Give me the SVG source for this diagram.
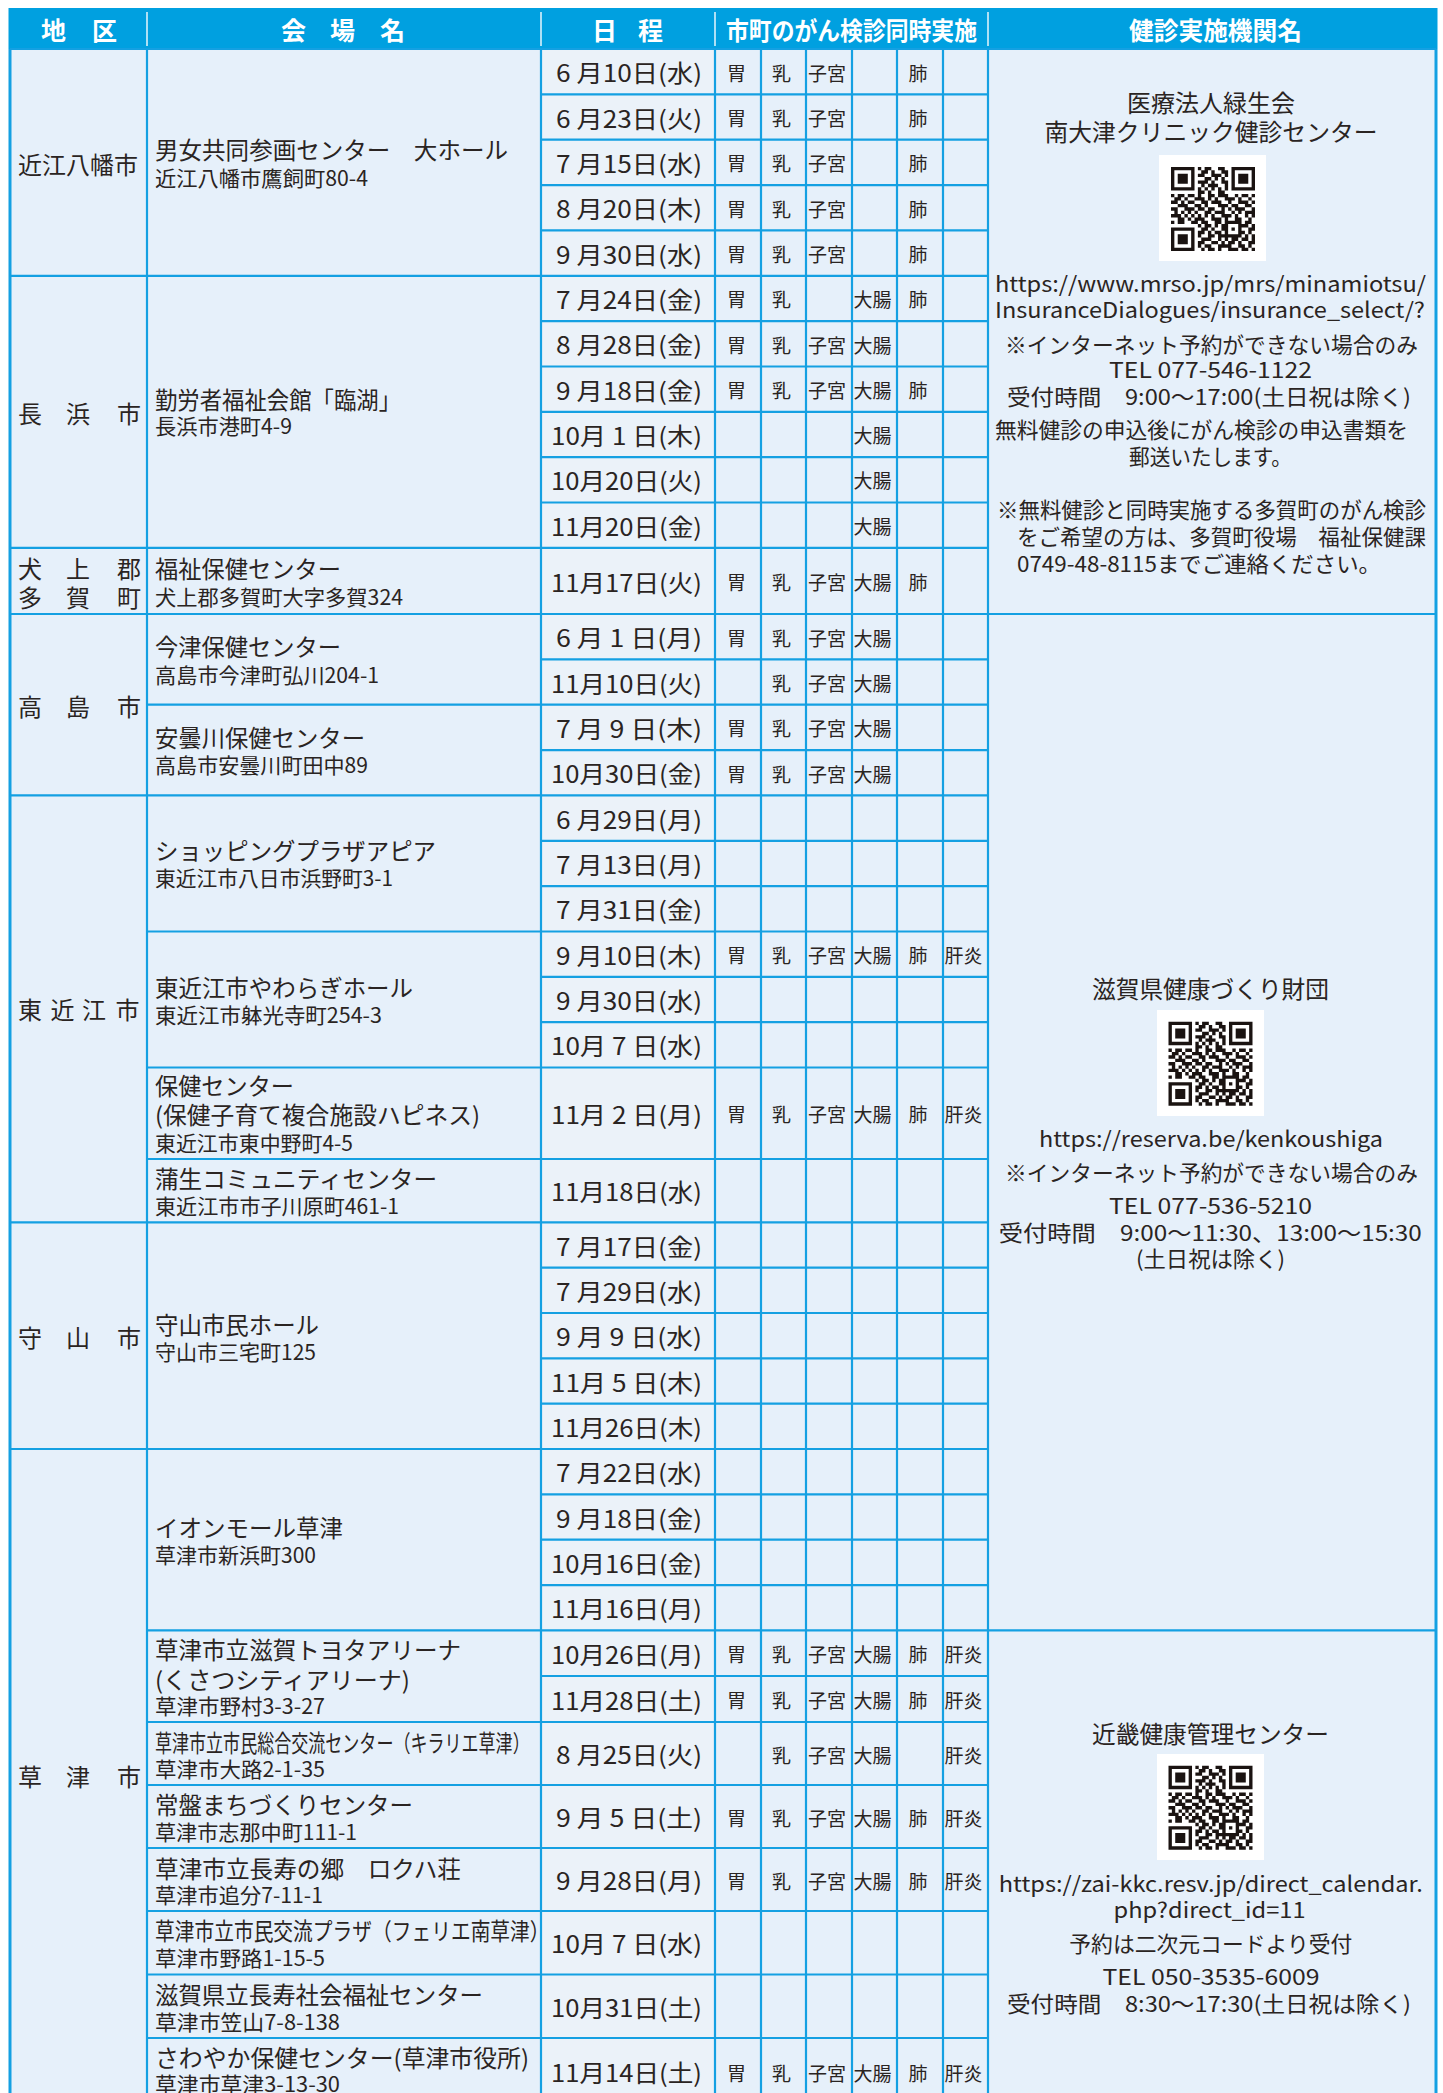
<svg xmlns="http://www.w3.org/2000/svg" width="1443" height="2093" viewBox="0 0 1443 2093">
<defs>
<style>
text{font-family:"Noto Sans CJK JP","Noto Sans",sans-serif;fill:#2a2422;dominant-baseline:central}
.h{font-size:25px;font-weight:700;fill:#fff}
.k{font-size:24px}
.n{font-size:23.5px}
.a{font-size:21px}
.d{font-size:24px;text-anchor:end}
.c{font-size:19px;text-anchor:middle}
.ti{font-size:24px;text-anchor:middle}
.r{font-size:21.5px;text-anchor:middle}
.rs{font-size:21.5px}
.ln{stroke:#14A0E2;stroke-width:2.2;fill:none}
.ob{stroke:#14A0E2;stroke-width:3;fill:none}
.sep{stroke:#fff;stroke-width:1.6;opacity:.85}
.qb{fill:#fff}
</style>
<path id="qr" fill="#1a1311" d="M0 0h7v1h-7zM8 0h1v1h-1zM10 0h2v1h-2zM14 0h2v1h-2zM18 0h7v1h-7zM0 1h1v1h-1zM6 1h1v1h-1zM9 1h2v1h-2zM12 1h1v1h-1zM15 1h2v1h-2zM18 1h1v1h-1zM24 1h1v1h-1zM0 2h1v1h-1zM2 2h3v1h-3zM6 2h1v1h-1zM8 2h2v1h-2zM12 2h3v1h-3zM16 2h1v1h-1zM18 2h1v1h-1zM20 2h3v1h-3zM24 2h1v1h-1zM0 3h1v1h-1zM2 3h3v1h-3zM6 3h1v1h-1zM10 3h2v1h-2zM13 3h1v1h-1zM15 3h1v1h-1zM18 3h1v1h-1zM20 3h3v1h-3zM24 3h1v1h-1zM0 4h1v1h-1zM2 4h3v1h-3zM6 4h1v1h-1zM8 4h3v1h-3zM12 4h1v1h-1zM15 4h2v1h-2zM18 4h1v1h-1zM20 4h3v1h-3zM24 4h1v1h-1zM0 5h1v1h-1zM6 5h1v1h-1zM9 5h1v1h-1zM11 5h3v1h-3zM16 5h1v1h-1zM18 5h1v1h-1zM24 5h1v1h-1zM0 6h7v1h-7zM8 6h1v1h-1zM10 6h1v1h-1zM12 6h1v1h-1zM14 6h1v1h-1zM16 6h1v1h-1zM18 6h7v1h-7zM8 7h2v1h-2zM11 7h1v1h-1zM14 7h2v1h-2zM0 8h1v1h-1zM2 8h2v1h-2zM5 8h2v1h-2zM8 8h1v1h-1zM11 8h2v1h-2zM14 8h3v1h-3zM19 8h1v1h-1zM21 8h2v1h-2zM24 8h1v1h-1zM1 9h2v1h-2zM4 9h1v1h-1zM7 9h3v1h-3zM11 9h1v1h-1zM13 9h1v1h-1zM16 9h3v1h-3zM20 9h1v1h-1zM23 9h1v1h-1zM0 10h2v1h-2zM3 10h1v1h-1zM5 10h2v1h-2zM9 10h2v1h-2zM12 10h3v1h-3zM17 10h1v1h-1zM20 10h3v1h-3zM24 10h1v1h-1zM2 11h3v1h-3zM7 11h2v1h-2zM10 11h1v1h-1zM14 11h3v1h-3zM18 11h2v1h-2zM22 11h2v1h-2zM0 12h2v1h-2zM4 12h3v1h-3zM8 12h2v1h-2zM11 12h2v1h-2zM15 12h1v1h-1zM17 12h1v1h-1zM19 12h3v1h-3zM24 12h1v1h-1zM1 13h1v1h-1zM3 13h1v1h-1zM5 13h1v1h-1zM7 13h1v1h-1zM10 13h2v1h-2zM13 13h3v1h-3zM18 13h1v1h-1zM20 13h1v1h-1zM22 13h3v1h-3zM0 14h3v1h-3zM4 14h1v1h-1zM6 14h1v1h-1zM8 14h1v1h-1zM10 14h1v1h-1zM12 14h1v1h-1zM15 14h3v1h-3zM19 14h1v1h-1zM22 14h1v1h-1zM24 14h1v1h-1zM2 15h2v1h-2zM5 15h1v1h-1zM7 15h3v1h-3zM12 15h3v1h-3zM16 15h1v1h-1zM19 15h2v1h-2zM23 15h1v1h-1zM0 16h1v1h-1zM2 16h2v1h-2zM6 16h2v1h-2zM9 16h2v1h-2zM13 16h2v1h-2zM16 16h5v1h-5zM22 16h2v1h-2zM8 17h1v1h-1zM10 17h2v1h-2zM13 17h1v1h-1zM15 17h2v1h-2zM20 17h3v1h-3zM24 17h1v1h-1zM0 18h7v1h-7zM9 18h2v1h-2zM12 18h1v1h-1zM15 18h2v1h-2zM18 18h1v1h-1zM20 18h1v1h-1zM23 18h2v1h-2zM0 19h1v1h-1zM6 19h1v1h-1zM8 19h2v1h-2zM11 19h1v1h-1zM13 19h2v1h-2zM16 19h1v1h-1zM20 19h2v1h-2zM23 19h1v1h-1zM0 20h1v1h-1zM2 20h3v1h-3zM6 20h1v1h-1zM8 20h1v1h-1zM11 20h2v1h-2zM14 20h7v1h-7zM22 20h1v1h-1zM24 20h1v1h-1zM0 21h1v1h-1zM2 21h3v1h-3zM6 21h1v1h-1zM9 21h3v1h-3zM14 21h1v1h-1zM16 21h1v1h-1zM18 21h2v1h-2zM21 21h2v1h-2zM24 21h1v1h-1zM0 22h1v1h-1zM2 22h3v1h-3zM6 22h1v1h-1zM8 22h2v1h-2zM12 22h2v1h-2zM15 22h1v1h-1zM17 22h2v1h-2zM20 22h1v1h-1zM23 22h2v1h-2zM0 23h1v1h-1zM6 23h1v1h-1zM8 23h1v1h-1zM10 23h2v1h-2zM14 23h4v1h-4zM20 23h2v1h-2zM23 23h1v1h-1zM0 24h7v1h-7zM9 24h1v1h-1zM11 24h2v1h-2zM14 24h1v1h-1zM17 24h3v1h-3zM21 24h2v1h-2zM24 24h1v1h-1z"/>
</defs>

<rect x="0" y="0" width="1443" height="2093" fill="#fff"/>
<rect x="10" y="49" width="1426" height="2044" fill="#E6F0FA"/>
<rect x="541" y="49" width="174" height="2044" fill="#EBF2F9"/>

<g id="header">
<rect x="8.5" y="8" width="1429" height="41" fill="#00A0E0"/>
<path class="sep" d="M147 12V46M541 12V46M715 12V46M988 12V46"/>
<text class="h" x="41 92" y="29">地区</text>
<text class="h" x="281 330 380" y="29">会場名</text>
<text class="h" x="592 638" y="29">日程</text>
<text class="h" x="726" y="29" textLength="251" lengthAdjust="spacingAndGlyphs">市町のがん検診同時実施</text>
<text class="h" x="1129" y="29" textLength="173" lengthAdjust="spacingAndGlyphs">健診実施機関名</text>
</g>

<g id="connectors">
<path class="ob" d="M10 49V2093M1436 49V2093"/>
<path class="ln" d="M147 49V2093M541 49V2093M715 49V2093M761 49V2093M806 49V2093M852 49V2093M897 49V2093M943 49V2093M988 49V2093"/>
<path class="ln" d="M10 49H1436M541 94.4H988M541 139.7H988M541 185.1H988M541 230.4H988M541 321.1H988M541 366.5H988M541 411.8H988M541 457.2H988M541 502.5H988M541 659.4H988M541 750.1H988M541 840.8H988M541 886.1H988M541 976.8H988M541 1022.2H988M541 1267.6H988M541 1313H988M541 1358.3H988M541 1403.7H988M541 1494.4H988M541 1539.7H988M541 1585.1H988M541 1676H988"/>
<path class="ln" d="M147 704.7H988M147 931.5H988M147 1067.5H988M147 1159H988M147 1722H988M147 1785H988M147 1848H988M147 1911H988M147 1974.5H988M147 2038H988"/>
<path class="ln" d="M10 275.8H988M10 547.9H988M10 795.4H988M10 1222.3H988M10 1449H988M10 614H1436M147 1630.4H1436"/>
</g>

<g id="omihachiman">
<text class="k" x="18" y="163">近江八幡市</text>
<text class="n" x="155" y="149" textLength="353" lengthAdjust="spacingAndGlyphs">男女共同参画センター　大ホール</text>
<text class="a" x="155" y="177" textLength="213" lengthAdjust="spacingAndGlyphs">近江八幡市鷹飼町80-4</text>
<text class="d" x="702" y="71.7" textLength="146" lengthAdjust="spacingAndGlyphs">6 月10日(水)</text>
<text class="d" x="702" y="117" textLength="146" lengthAdjust="spacingAndGlyphs">6 月23日(火)</text>
<text class="d" x="702" y="162.4" textLength="146" lengthAdjust="spacingAndGlyphs">7 月15日(水)</text>
<text class="d" x="702" y="207.7" textLength="146" lengthAdjust="spacingAndGlyphs">8 月20日(木)</text>
<text class="d" x="702" y="253.1" textLength="146" lengthAdjust="spacingAndGlyphs">9 月30日(水)</text>
<text class="c" y="71.7"><tspan x="736.5">胃</tspan><tspan x="781.5">乳</tspan><tspan x="827">子宮</tspan><tspan x="918">肺</tspan></text>
<text class="c" y="117"><tspan x="736.5">胃</tspan><tspan x="781.5">乳</tspan><tspan x="827">子宮</tspan><tspan x="918">肺</tspan></text>
<text class="c" y="162.4"><tspan x="736.5">胃</tspan><tspan x="781.5">乳</tspan><tspan x="827">子宮</tspan><tspan x="918">肺</tspan></text>
<text class="c" y="207.7"><tspan x="736.5">胃</tspan><tspan x="781.5">乳</tspan><tspan x="827">子宮</tspan><tspan x="918">肺</tspan></text>
<text class="c" y="253.1"><tspan x="736.5">胃</tspan><tspan x="781.5">乳</tspan><tspan x="827">子宮</tspan><tspan x="918">肺</tspan></text>
</g>

<g id="nagahama">
<text class="k" x="18 66 117" y="412">長浜市</text>
<text class="n" x="155" y="399" textLength="246" lengthAdjust="spacingAndGlyphs">勤労者福祉会館「臨湖」</text>
<text class="a" x="155" y="425" textLength="137" lengthAdjust="spacingAndGlyphs">長浜市港町4-9</text>
<text class="d" x="702" y="298.4" textLength="146" lengthAdjust="spacingAndGlyphs">7 月24日(金)</text>
<text class="d" x="702" y="343.8" textLength="146" lengthAdjust="spacingAndGlyphs">8 月28日(金)</text>
<text class="d" x="702" y="389.1" textLength="146" lengthAdjust="spacingAndGlyphs">9 月18日(金)</text>
<text class="d" x="702" y="434.5" textLength="151" lengthAdjust="spacingAndGlyphs">10月 1 日(木)</text>
<text class="d" x="702" y="479.8" textLength="151" lengthAdjust="spacingAndGlyphs">10月20日(火)</text>
<text class="d" x="702" y="525.2" textLength="151" lengthAdjust="spacingAndGlyphs">11月20日(金)</text>
<text class="c" y="298.4"><tspan x="736.5">胃</tspan><tspan x="781.5">乳</tspan><tspan x="872.5">大腸</tspan><tspan x="918">肺</tspan></text>
<text class="c" y="343.8"><tspan x="736.5">胃</tspan><tspan x="781.5">乳</tspan><tspan x="827">子宮</tspan><tspan x="872.5">大腸</tspan></text>
<text class="c" y="389.1"><tspan x="736.5">胃</tspan><tspan x="781.5">乳</tspan><tspan x="827">子宮</tspan><tspan x="872.5">大腸</tspan><tspan x="918">肺</tspan></text>
<text class="c" x="872.5" y="434.5">大腸</text>
<text class="c" x="872.5" y="479.8">大腸</text>
<text class="c" x="872.5" y="525.2">大腸</text>
</g>

<g id="taga">
<text class="k" x="18 66 117" y="567">犬上郡</text>
<text class="k" x="18 66 117" y="596">多賀町</text>
<text class="n" x="155" y="568" textLength="186" lengthAdjust="spacingAndGlyphs">福祉保健センター</text>
<text class="a" x="155" y="596" textLength="248" lengthAdjust="spacingAndGlyphs">犬上郡多賀町大字多賀324</text>
<text class="d" x="702" y="581" textLength="151" lengthAdjust="spacingAndGlyphs">11月17日(火)</text>
<text class="c" y="581"><tspan x="736.5">胃</tspan><tspan x="781.5">乳</tspan><tspan x="827">子宮</tspan><tspan x="872.5">大腸</tspan><tspan x="918">肺</tspan></text>
</g>

<g id="takashima">
<text class="k" x="18 66 117" y="705">高島市</text>
<text class="n" x="155" y="646" textLength="186" lengthAdjust="spacingAndGlyphs">今津保健センター</text>
<text class="a" x="155" y="674" textLength="224" lengthAdjust="spacingAndGlyphs">高島市今津町弘川204-1</text>
<text class="n" x="155" y="737" textLength="210" lengthAdjust="spacingAndGlyphs">安曇川保健センター</text>
<text class="a" x="155" y="764" textLength="213" lengthAdjust="spacingAndGlyphs">高島市安曇川町田中89</text>
<text class="d" x="702" y="636.7" textLength="146" lengthAdjust="spacingAndGlyphs">6 月 1 日(月)</text>
<text class="d" x="702" y="682" textLength="151" lengthAdjust="spacingAndGlyphs">11月10日(火)</text>
<text class="d" x="702" y="727.4" textLength="146" lengthAdjust="spacingAndGlyphs">7 月 9 日(木)</text>
<text class="d" x="702" y="772.7" textLength="151" lengthAdjust="spacingAndGlyphs">10月30日(金)</text>
<text class="c" y="636.7"><tspan x="736.5">胃</tspan><tspan x="781.5">乳</tspan><tspan x="827">子宮</tspan><tspan x="872.5">大腸</tspan></text>
<text class="c" y="682"><tspan x="781.5">乳</tspan><tspan x="827">子宮</tspan><tspan x="872.5">大腸</tspan></text>
<text class="c" y="727.4"><tspan x="736.5">胃</tspan><tspan x="781.5">乳</tspan><tspan x="827">子宮</tspan><tspan x="872.5">大腸</tspan></text>
<text class="c" y="772.7"><tspan x="736.5">胃</tspan><tspan x="781.5">乳</tspan><tspan x="827">子宮</tspan><tspan x="872.5">大腸</tspan></text>
</g>

<g id="higashiomi">
<text class="k" x="18 50.5 82 115.5" y="1008">東近江市</text>
<text class="n" x="155" y="850" textLength="281" lengthAdjust="spacingAndGlyphs">ショッピングプラザアピア</text>
<text class="a" x="155" y="877" textLength="238" lengthAdjust="spacingAndGlyphs">東近江市八日市浜野町3-1</text>
<text class="n" x="155" y="987" textLength="258" lengthAdjust="spacingAndGlyphs">東近江市やわらぎホール</text>
<text class="a" x="155" y="1014" textLength="227" lengthAdjust="spacingAndGlyphs">東近江市躰光寺町254-3</text>
<text class="n" x="155" y="1085" textLength="139" lengthAdjust="spacingAndGlyphs">保健センター</text>
<text class="n" x="155" y="1114" textLength="325" lengthAdjust="spacingAndGlyphs">(保健子育て複合施設ハピネス)</text>
<text class="a" x="155" y="1142" textLength="198" lengthAdjust="spacingAndGlyphs">東近江市東中野町4-5</text>
<text class="n" x="155" y="1178" textLength="282" lengthAdjust="spacingAndGlyphs">蒲生コミュニティセンター</text>
<text class="a" x="155" y="1205" textLength="244" lengthAdjust="spacingAndGlyphs">東近江市市子川原町461-1</text>
<text class="d" x="702" y="818.1" textLength="146" lengthAdjust="spacingAndGlyphs">6 月29日(月)</text>
<text class="d" x="702" y="863.4" textLength="146" lengthAdjust="spacingAndGlyphs">7 月13日(月)</text>
<text class="d" x="702" y="908.8" textLength="146" lengthAdjust="spacingAndGlyphs">7 月31日(金)</text>
<text class="d" x="702" y="954.1" textLength="146" lengthAdjust="spacingAndGlyphs">9 月10日(木)</text>
<text class="d" x="702" y="999.5" textLength="146" lengthAdjust="spacingAndGlyphs">9 月30日(水)</text>
<text class="d" x="702" y="1044.8" textLength="151" lengthAdjust="spacingAndGlyphs">10月 7 日(水)</text>
<text class="d" x="702" y="1113.2" textLength="151" lengthAdjust="spacingAndGlyphs">11月 2 日(月)</text>
<text class="d" x="702" y="1190.6" textLength="151" lengthAdjust="spacingAndGlyphs">11月18日(水)</text>
<text class="c" y="954.1"><tspan x="736.5">胃</tspan><tspan x="781.5">乳</tspan><tspan x="827">子宮</tspan><tspan x="872.5">大腸</tspan><tspan x="918">肺</tspan><tspan x="963.5">肝炎</tspan></text>
<text class="c" y="1113.2"><tspan x="736.5">胃</tspan><tspan x="781.5">乳</tspan><tspan x="827">子宮</tspan><tspan x="872.5">大腸</tspan><tspan x="918">肺</tspan><tspan x="963.5">肝炎</tspan></text>
</g>

<g id="moriyama">
<text class="k" x="18 66 117" y="1336">守山市</text>
<text class="n" x="155" y="1324" textLength="164" lengthAdjust="spacingAndGlyphs">守山市民ホール</text>
<text class="a" x="155" y="1351">守山市三宅町125</text>
<text class="d" x="702" y="1245" textLength="146" lengthAdjust="spacingAndGlyphs">7 月17日(金)</text>
<text class="d" x="702" y="1290.3" textLength="146" lengthAdjust="spacingAndGlyphs">7 月29日(水)</text>
<text class="d" x="702" y="1335.6" textLength="146" lengthAdjust="spacingAndGlyphs">9 月 9 日(水)</text>
<text class="d" x="702" y="1381" textLength="151" lengthAdjust="spacingAndGlyphs">11月 5 日(木)</text>
<text class="d" x="702" y="1426.3" textLength="151" lengthAdjust="spacingAndGlyphs">11月26日(木)</text>
</g>

<g id="kusatsu">
<text class="k" x="18 66 117" y="1775">草津市</text>
<text class="n" x="155" y="1527" textLength="188" lengthAdjust="spacingAndGlyphs">イオンモール草津</text>
<text class="a" x="155" y="1554">草津市新浜町300</text>
<text class="n" x="155" y="1649" textLength="306" lengthAdjust="spacingAndGlyphs">草津市立滋賀トヨタアリーナ</text>
<text class="n" x="155" y="1679" textLength="255" lengthAdjust="spacingAndGlyphs">(くさつシティアリーナ)</text>
<text class="a" x="155" y="1705" textLength="170" lengthAdjust="spacingAndGlyphs">草津市野村3-3-27</text>
<text class="n" transform="matrix(0.725 0 0 1 155 1742)" x="0" y="0">草津市立市民総合交流センター（キラリエ草津）</text>
<text class="a" x="155" y="1768" textLength="170" lengthAdjust="spacingAndGlyphs">草津市大路2-1-35</text>
<text class="n" x="155" y="1804" textLength="258" lengthAdjust="spacingAndGlyphs">常盤まちづくりセンター</text>
<text class="a" x="155" y="1831" textLength="202" lengthAdjust="spacingAndGlyphs">草津市志那中町111-1</text>
<text class="n" x="155" y="1868" textLength="306" lengthAdjust="spacingAndGlyphs">草津市立長寿の郷　ロクハ荘</text>
<text class="a" x="155" y="1894" textLength="168" lengthAdjust="spacingAndGlyphs">草津市追分7-11-1</text>
<text class="n" transform="matrix(0.84 0 0 1 155 1930)" x="0" y="0">草津市立市民交流プラザ（フェリエ南草津）</text>
<text class="a" x="155" y="1957" textLength="170" lengthAdjust="spacingAndGlyphs">草津市野路1-15-5</text>
<text class="n" x="155" y="1994" textLength="328" lengthAdjust="spacingAndGlyphs">滋賀県立長寿社会福祉センター</text>
<text class="a" x="155" y="2021" textLength="185" lengthAdjust="spacingAndGlyphs">草津市笠山7-8-138</text>
<text class="n" x="155" y="2057" textLength="374" lengthAdjust="spacingAndGlyphs">さわやか保健センター(草津市役所)</text>
<text class="a" x="155" y="2083" textLength="185" lengthAdjust="spacingAndGlyphs">草津市草津3-13-30</text>
<text class="d" x="702" y="1471.7" textLength="146" lengthAdjust="spacingAndGlyphs">7 月22日(水)</text>
<text class="d" x="702" y="1517" textLength="146" lengthAdjust="spacingAndGlyphs">9 月18日(金)</text>
<text class="d" x="702" y="1562.4" textLength="151" lengthAdjust="spacingAndGlyphs">10月16日(金)</text>
<text class="d" x="702" y="1607.7" textLength="151" lengthAdjust="spacingAndGlyphs">11月16日(月)</text>
<text class="d" x="702" y="1653.2" textLength="151" lengthAdjust="spacingAndGlyphs">10月26日(月)</text>
<text class="d" x="702" y="1699" textLength="151" lengthAdjust="spacingAndGlyphs">11月28日(土)</text>
<text class="d" x="702" y="1753.5" textLength="146" lengthAdjust="spacingAndGlyphs">8 月25日(火)</text>
<text class="d" x="702" y="1816.5" textLength="146" lengthAdjust="spacingAndGlyphs">9 月 5 日(土)</text>
<text class="d" x="702" y="1879.5" textLength="146" lengthAdjust="spacingAndGlyphs">9 月28日(月)</text>
<text class="d" x="702" y="1942.7" textLength="151" lengthAdjust="spacingAndGlyphs">10月 7 日(水)</text>
<text class="d" x="702" y="2006.2" textLength="151" lengthAdjust="spacingAndGlyphs">10月31日(土)</text>
<text class="d" x="702" y="2071.7" textLength="151" lengthAdjust="spacingAndGlyphs">11月14日(土)</text>
<text class="c" y="1653.2"><tspan x="736.5">胃</tspan><tspan x="781.5">乳</tspan><tspan x="827">子宮</tspan><tspan x="872.5">大腸</tspan><tspan x="918">肺</tspan><tspan x="963.5">肝炎</tspan></text>
<text class="c" y="1699"><tspan x="736.5">胃</tspan><tspan x="781.5">乳</tspan><tspan x="827">子宮</tspan><tspan x="872.5">大腸</tspan><tspan x="918">肺</tspan><tspan x="963.5">肝炎</tspan></text>
<text class="c" y="1753.5"><tspan x="781.5">乳</tspan><tspan x="827">子宮</tspan><tspan x="872.5">大腸</tspan><tspan x="963.5">肝炎</tspan></text>
<text class="c" y="1816.5"><tspan x="736.5">胃</tspan><tspan x="781.5">乳</tspan><tspan x="827">子宮</tspan><tspan x="872.5">大腸</tspan><tspan x="918">肺</tspan><tspan x="963.5">肝炎</tspan></text>
<text class="c" y="1879.5"><tspan x="736.5">胃</tspan><tspan x="781.5">乳</tspan><tspan x="827">子宮</tspan><tspan x="872.5">大腸</tspan><tspan x="918">肺</tspan><tspan x="963.5">肝炎</tspan></text>
<text class="c" y="2071.7"><tspan x="736.5">胃</tspan><tspan x="781.5">乳</tspan><tspan x="827">子宮</tspan><tspan x="872.5">大腸</tspan><tspan x="918">肺</tspan><tspan x="963.5">肝炎</tspan></text>
</g>

<g id="org1">
<text class="ti" x="1211" y="101" textLength="168" lengthAdjust="spacingAndGlyphs">医療法人緑生会</text>
<text class="ti" x="1211" y="130" textLength="333" lengthAdjust="spacingAndGlyphs">南大津クリニック健診センター</text>
<rect class="qb" x="1159" y="155" width="107" height="106"/>
<use href="#qr" transform="translate(1171 167) scale(3.36)"/>
<text class="r" x="1210.5" y="282" textLength="431" lengthAdjust="spacingAndGlyphs">https://www.mrso.jp/mrs/minamiotsu/</text>
<text class="r" x="1210" y="308" textLength="430" lengthAdjust="spacingAndGlyphs">InsuranceDialogues/insurance_select/?</text>
<text class="r" x="1211.5" y="343" textLength="413" lengthAdjust="spacingAndGlyphs">※インターネット予約ができない場合のみ</text>
<text class="r" x="1210.5" y="368" textLength="203" lengthAdjust="spacingAndGlyphs">TEL 077-546-1122</text>
<text class="r" x="1209" y="395" textLength="404" lengthAdjust="spacingAndGlyphs">受付時間　9:00～17:00(土日祝は除く)</text>
<text class="rs" x="995" y="428" textLength="413" lengthAdjust="spacingAndGlyphs">無料健診の申込後にがん検診の申込書類を</text>
<text class="r" x="1210.5" y="455" textLength="163" lengthAdjust="spacingAndGlyphs">郵送いたします。</text>
<text class="rs" x="997" y="508" textLength="429" lengthAdjust="spacingAndGlyphs">※無料健診と同時実施する多賀町のがん検診</text>
<text class="rs" x="1017" y="535" textLength="409" lengthAdjust="spacingAndGlyphs">をご希望の方は、多賀町役場　福祉保健課</text>
<text class="rs" x="1017" y="562" textLength="364" lengthAdjust="spacingAndGlyphs">0749-48-8115までご連絡ください。</text>
</g>

<g id="org2">
<text class="ti" x="1210.5" y="987" textLength="237" lengthAdjust="spacingAndGlyphs">滋賀県健康づくり財団</text>
<rect class="qb" x="1157" y="1010" width="107" height="106"/>
<use href="#qr" transform="translate(1168.5 1021.7) scale(3.36)"/>
<text class="r" x="1211" y="1137" textLength="344" lengthAdjust="spacingAndGlyphs">https://reserva.be/kenkoushiga</text>
<text class="r" x="1211.5" y="1171" textLength="413" lengthAdjust="spacingAndGlyphs">※インターネット予約ができない場合のみ</text>
<text class="r" x="1210.5" y="1204" textLength="203" lengthAdjust="spacingAndGlyphs">TEL 077-536-5210</text>
<text class="r" x="1210.3" y="1231" textLength="423" lengthAdjust="spacingAndGlyphs">受付時間　9:00～11:30、13:00～15:30</text>
<text class="r" x="1210.5" y="1257" textLength="149" lengthAdjust="spacingAndGlyphs">(土日祝は除く)</text>
</g>

<g id="org3">
<text class="ti" x="1210.5" y="1732" textLength="237" lengthAdjust="spacingAndGlyphs">近畿健康管理センター</text>
<rect class="qb" x="1157" y="1754" width="107" height="106"/>
<use href="#qr" transform="translate(1168.5 1765.7) scale(3.36)"/>
<text class="r" x="1210.8" y="1882" textLength="424" lengthAdjust="spacingAndGlyphs">https://zai-kkc.resv.jp/direct_calendar.</text>
<text class="r" x="1209.5" y="1908" textLength="192" lengthAdjust="spacingAndGlyphs">php?direct_id=11</text>
<text class="r" x="1210.8" y="1942" textLength="283" lengthAdjust="spacingAndGlyphs">予約は二次元コードより受付</text>
<text class="r" x="1211" y="1975" textLength="217" lengthAdjust="spacingAndGlyphs">TEL 050-3535-6009</text>
<text class="r" x="1209" y="2002" textLength="404" lengthAdjust="spacingAndGlyphs">受付時間　8:30～17:30(土日祝は除く)</text>
</g>
</svg>
